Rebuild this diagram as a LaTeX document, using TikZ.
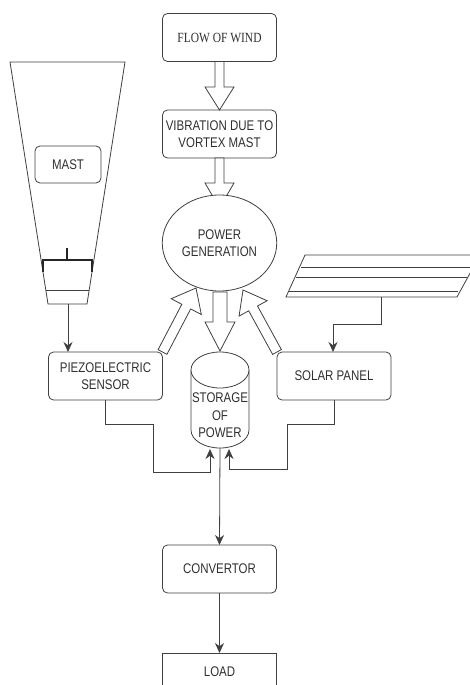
\documentclass[tikz,border=0pt]{standalone}
\usepackage{fontspec}
\setmainfont[FakeStretch=0.82]{Liberation Sans}
\newfontfamily\flowfont[FakeStretch=0.82]{Liberation Serif}
\usepackage{tikz}
\usetikzlibrary{positioning,arrows.meta,calc,shapes.geometric}
\definecolor{lineGray}{HTML}{404040}
\definecolor{textGray}{HTML}{303030}
\tikzset{
  roundbox/.style={draw=lineGray, fill=white, rounded corners=5pt, line width=0.8pt, minimum width=114pt, minimum height=48pt, inner sep=0pt, outer sep=0pt, align=center, text=textGray, font=\fontsize{14}{17.5}\selectfont},
  wire/.style={draw=lineGray, line width=0.8pt, -{Stealth[length=10pt,width=9pt]}},
  outline/.style={draw=lineGray, line width=0.8pt}
}
% #1 from, #2 to, #3 half shaft, #4 half head, #5 head length
\newcommand{\hollowarrow}[5]{
  \coordinate (headbase) at ($(#2)!#5pt!(#1)$);
  \draw[outline, fill=white] ($(#1)!#3pt!90:(#2)$) -- ($(headbase)!#3pt!90:(#2)$) -- ($(headbase)!#4pt!90:(#2)$) -- (#2)
    -- ($(headbase)!#4pt!-90:(#2)$) -- ($(headbase)!#3pt!-90:(#2)$) -- ($(#1)!#3pt!-90:(#2)$) -- cycle;
}

\begin{document}
\begin{tikzpicture}[x=1pt, y=-1pt]
  \useasboundingbox (0,0) rectangle (470,685);
  \clip (0,0) rectangle (470,685);
  \fill[white] (0,0) rectangle (470,685);

  % Mast
  \draw[outline] (10,62) -- (125,62) -- (87,304) -- (48,304) -- cycle;
  \draw[outline] (46,290) -- (89,290);
  \draw[line width=2pt, black!85] (43,272) -- (43,260) -- (92,260) -- (92,272);
  \draw[line width=1.4pt, black!85] (67,248) -- (67,260);
  \node[roundbox, minimum width=66pt, minimum height=37pt] (mast) at (68,164.5) {MAST};
  \coordinate (mastfoot) at (68,304);

  % Solar cells
  \draw[outline] (305,255) -- (480,255) -- (457,297) -- (286,297) -- cycle;
  \draw[outline] (301,267) -- (475,267);
  \draw[outline] (296,277) -- (467,277);
  \draw[outline] (288,291) -- (458,291);
  \coordinate (panelfoot) at (381,297);

  % Main chain
  \node[roundbox, font=\fontsize{14}{17.5}\flowfont] (flow) at (219.5,37.5) {FLOW OF WIND};
  \node[roundbox] (vibration) at (219.5,134) {VIBRATION DUE TO\\VORTEX MAST};
  \coordinate (powertop) at (219.5,208);
  \hollowarrow{flow.south}{vibration.north}{4.5}{14.5}{23}
  \hollowarrow{vibration.south}{powertop}{4.5}{14.5}{25}
  \node[ellipse, roundbox, minimum width=114.5pt, minimum height=96pt] (power) at (219.5,243) {POWER\\GENERATION};

  \node[roundbox] (piezo) at (105.5,376) {PIEZOELECTRIC\\SENSOR};
  \node[roundbox] (solar) at (334,376) {SOLAR PANEL};

  % Storage drum
  \node[minimum width=58pt, minimum height=96pt, inner sep=0pt, outer sep=0pt] (storage) at (220,400) {};
  \draw[outline, fill=white] (191,370) -- (191,430) arc[start angle=180, end angle=0, x radius=29, y radius=18] -- (249,370);
  \draw[outline, fill=white] (220,370) ellipse [x radius=29, y radius=18];
  \node[align=center, text=textGray, font=\fontsize{14}{17.5}\selectfont, inner sep=0pt] (storagetext) at (220,415.5) {STORAGE\\OF\\POWER};

  \node[roundbox] (convertor) at (219.5,569) {CONVERTOR};
  \node[roundbox, rounded corners=0pt, minimum height=38pt, anchor=north] (load) at (219.5,653) {LOAD};

  % Hollow arrows round the storage
  \coordinate (piezotip) at (196,288);
  \coordinate (solartip) at (243,290);
  \coordinate (powerfoot) at (220,292);
  \coordinate (storagetop) at (220,351);
  \hollowarrow{piezo.north east}{piezotip}{5}{17}{21}
  \hollowarrow{solar.north west}{solartip}{5}{16}{21}
  \hollowarrow{powerfoot}{storagetop}{7}{15}{29}

  % Wires
  \coordinate (storageleft) at (210,449);
  \coordinate (storageright) at (229,449);
  \draw[wire] (mastfoot) -- (mastfoot |- piezo.north);
  \draw[wire] (panelfoot) |- (333,324) -- (333,352);
  \draw[wire] (piezo.south) |- (153,424) |- (210,472) -- (storageleft);
  \draw[wire] (solar.south) |- (287,424) |- (229,469) -- (storageright);
  \draw[wire] (storage.south) -- (convertor.north);
  \draw[wire] (convertor.south) -- (load.north);
\end{tikzpicture}
\end{document}
